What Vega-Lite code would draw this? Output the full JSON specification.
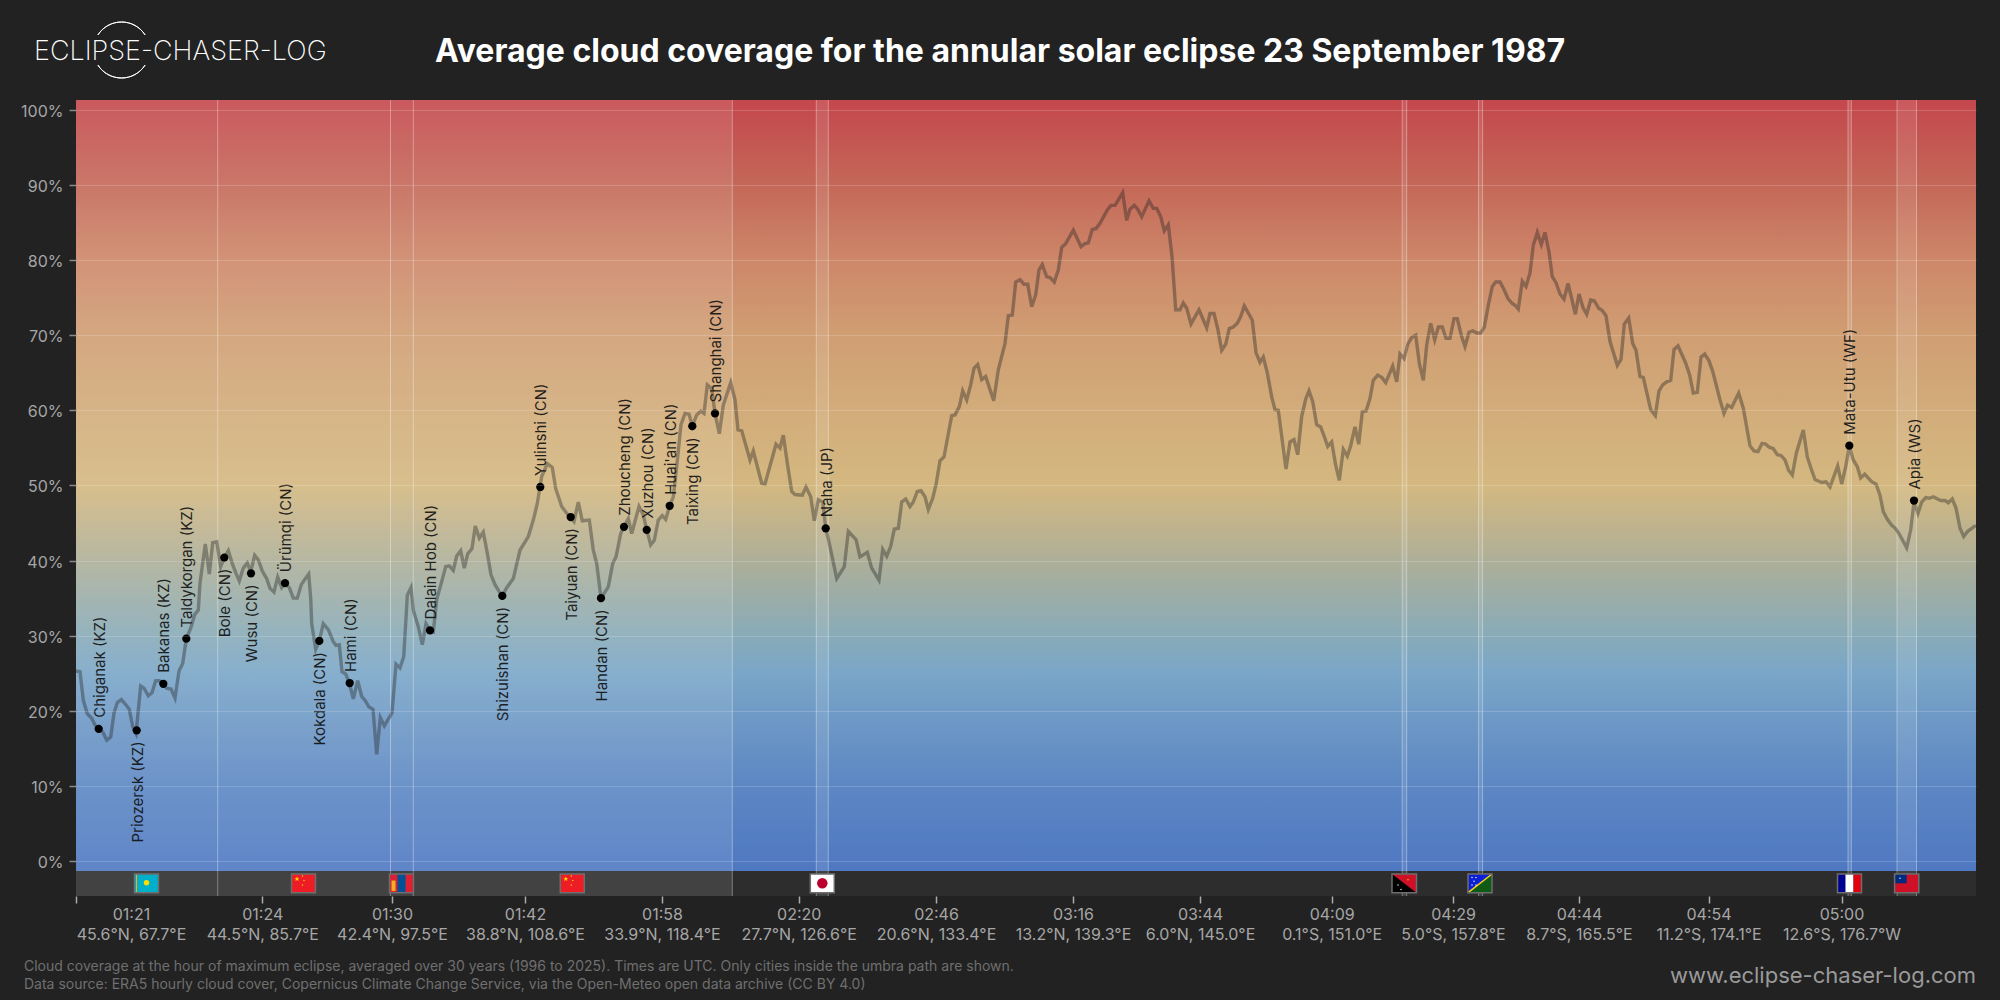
{"$schema":"https://vega.github.io/schema/vega-lite/v6.json","width":1900,"height":796,"autosize":{"type":"none"},"padding":{"left":76,"top":100,"right":24,"bottom":104},"background":"#222222","config":{"view":{"stroke":null},"font":"Inter"},
"resolve":{"axis":{"x":"independent","y":"independent"}},
"datasets":{
"frame":[{"x0":0,"x1":1900,"y0":-1.33,"y1":101.33,"b0":-4.66}],
"regions":[{"c":"Kazakhstan","from":0,"to":141.7},{"c":"China","from":141.7,"to":314.5},{"c":"Mongolia","from":314.5,"to":337.3},{"c":"China","from":337.3,"to":656.3},{"c":"Japan","from":740.3,"to":752.3},{"c":"Papua New Guinea","from":1326.2,"to":1330.7},{"c":"Solomon Islands","from":1402.6,"to":1406.6},{"c":"Wallis and Futuna","from":1772,"to":1775.3},{"c":"Samoa","from":1821,"to":1840.5}],
"line":[{"km":0,"v":25.3},{"km":4,"v":25.2},{"km":7.3,"v":21.4},{"km":11.3,"v":19.6},{"km":15.7,"v":19},{"km":19,"v":18.1},{"km":22.7,"v":17.6},{"km":26.7,"v":17.2},{"km":30.7,"v":16.1},{"km":34.7,"v":16.5},{"km":38,"v":19.7},{"km":41.3,"v":21.1},{"km":45.3,"v":21.5},{"km":49.3,"v":20.9},{"km":53.3,"v":20.2},{"km":56.7,"v":17.9},{"km":60,"v":17},{"km":64.7,"v":23.3},{"km":68,"v":23},{"km":72.3,"v":22},{"km":76,"v":22.4},{"km":79.7,"v":24},{"km":83.3,"v":24},{"km":87.3,"v":23.6},{"km":90.7,"v":23},{"km":95,"v":22.9},{"km":99,"v":21.7},{"km":103,"v":25.3},{"km":106.7,"v":26.3},{"km":110.3,"v":29.6},{"km":114.7,"v":31},{"km":118.7,"v":32.8},{"km":122.3,"v":33.4},{"km":124,"v":37},{"km":129.3,"v":42.2},{"km":133.3,"v":38.2},{"km":136.7,"v":42.4},{"km":140.7,"v":42.5},{"km":144.7,"v":39.2},{"km":148,"v":40.3},{"km":152.3,"v":41.3},{"km":156.3,"v":39.6},{"km":160,"v":38.3},{"km":163.3,"v":37.3},{"km":167.3,"v":39},{"km":171.3,"v":39.7},{"km":174.7,"v":38.5},{"km":178.7,"v":40.7},{"km":182.3,"v":40.1},{"km":186.3,"v":38.6},{"km":190.7,"v":37.6},{"km":194,"v":36.3},{"km":198,"v":35.8},{"km":201.7,"v":37.8},{"km":205.7,"v":36.4},{"km":209.3,"v":37},{"km":213.3,"v":36.4},{"km":217.3,"v":35},{"km":221.3,"v":35},{"km":225.3,"v":36.8},{"km":229.3,"v":37.6},{"km":232.7,"v":38.2},{"km":234.7,"v":35},{"km":235.7,"v":31.6},{"km":239.7,"v":28.2},{"km":243.3,"v":29.3},{"km":247.3,"v":31.6},{"km":252.3,"v":30.8},{"km":257.3,"v":29.2},{"km":260,"v":28.7},{"km":263.3,"v":28.8},{"km":266,"v":25.2},{"km":269.7,"v":24.9},{"km":273.3,"v":23.7},{"km":277.3,"v":21.6},{"km":281.7,"v":24},{"km":285.7,"v":21.9},{"km":289,"v":21.4},{"km":293,"v":20.5},{"km":297,"v":20.2},{"km":300.7,"v":14.2},{"km":304.3,"v":19.1},{"km":308.3,"v":18},{"km":312.3,"v":18.9},{"km":316,"v":19.7},{"km":320,"v":26.2},{"km":324,"v":25.7},{"km":327.7,"v":27.2},{"km":330.7,"v":33.9},{"km":331.3,"v":35.4},{"km":335,"v":36.4},{"km":337.3,"v":33.4},{"km":342.3,"v":31.2},{"km":346.3,"v":28.8},{"km":350,"v":31.6},{"km":354,"v":30.7},{"km":357.3,"v":30.5},{"km":360.7,"v":34.8},{"km":365.7,"v":37.2},{"km":369.7,"v":39.2},{"km":373.3,"v":39.3},{"km":377.3,"v":38.7},{"km":380.7,"v":40.6},{"km":384.7,"v":41.3},{"km":388.3,"v":39},{"km":391.7,"v":40.9},{"km":396,"v":41.6},{"km":399.3,"v":44.6},{"km":403.3,"v":43},{"km":407.3,"v":43.8},{"km":411.3,"v":41},{"km":415,"v":38.1},{"km":419,"v":36.8},{"km":423,"v":35.9},
{"km":426.3,"v":35.3},{"km":430.7,"v":36.4},{"km":437.3,"v":37.6},{"km":444,"v":41.4},{"km":452.3,"v":43.2},{"km":457.3,"v":45.4},{"km":461.3,"v":47.6},{"km":465.7,"v":51.2},{"km":471.3,"v":52.9},{"km":476.3,"v":52.4},{"km":479.7,"v":49.6},{"km":485.7,"v":47.2},{"km":490.7,"v":46.3},{"km":498,"v":45.2},{"km":502.3,"v":47.8},{"km":506.3,"v":45.3},{"km":513.3,"v":45.4},{"km":517.3,"v":41.4},{"km":520.7,"v":39.6},{"km":525,"v":35},{"km":532.3,"v":36.5},{"km":536.7,"v":39.6},{"km":540,"v":40.5},{"km":544.7,"v":43.6},{"km":548,"v":44.5},{"km":552.3,"v":45.6},{"km":555.7,"v":43.6},{"km":563,"v":47.2},{"km":567.3,"v":46.1},{"km":570.7,"v":44.1},{"km":574.7,"v":42.1},{"km":578.3,"v":42.7},{"km":582.3,"v":45.4},{"km":586.3,"v":46},{"km":589.7,"v":45.5},{"km":593.7,"v":47.3},{"km":597.3,"v":48.5},{"km":600.7,"v":52.5},{"km":605,"v":58.1},{"km":609,"v":59.6},{"km":613,"v":59.5},{"km":616.3,"v":57.9},{"km":620.7,"v":59.4},{"km":624.7,"v":59.9},{"km":628,"v":59.6},{"km":631.3,"v":63.4},{"km":635.7,"v":62.9},{"km":639,"v":59.6},{"km":643.3,"v":56.9},{"km":647.3,"v":60.7},{"km":654.7,"v":63.7},{"km":659,"v":61.4},{"km":662,"v":57.4},{"km":665.7,"v":57.3},{"km":674,"v":53.4},{"km":677.3,"v":54.6},{"km":685.7,"v":50.3},{"km":689,"v":50.2},{"km":700,"v":55.5},{"km":704,"v":55},{"km":707.3,"v":56.7},{"km":711.3,"v":53},{"km":715.7,"v":49.2},{"km":719,"v":48.8},{"km":726.3,"v":48.7},{"km":730,"v":49.8},{"km":734.7,"v":48.5},{"km":738.3,"v":45.3},{"km":742.3,"v":48.1},{"km":746.7,"v":47.8},{"km":749.7,"v":44.3},{"km":753,"v":42.5},{"km":760.7,"v":37.6},{"km":768.3,"v":39.2},{"km":772.3,"v":43.9},{"km":780,"v":42.8},{"km":784,"v":40.5},{"km":791.3,"v":41.1},{"km":795.7,"v":39},{"km":803,"v":37.4},{"km":806.7,"v":41.5},{"km":810.7,"v":40.6},{"km":814.7,"v":41.9},{"km":818.3,"v":44.2},{"km":822.3,"v":44.3},{"km":825.7,"v":47.8},{"km":829.7,"v":48.2},{"km":834,"v":47.2},{"km":837.3,"v":47.8},{"km":841.3,"v":49.2},{"km":845,"v":49.3},{"km":849,"v":48.5},{"km":852.3,"v":46.8},{"km":856.7,"v":48.3},{"km":860,"v":50.1},{"km":864,"v":53.3},{"km":868,"v":53.8},{"km":875.7,"v":59.3},{"km":879,"v":59.4},{"km":883.3,"v":60.5},{"km":886.7,"v":62.6},{"km":890.7,"v":61.4},{"km":894.7,"v":63.4},{"km":898,"v":65.6},{"km":901.7,"v":66.1},{"km":905.7,"v":64.1},{"km":909.7,"v":64.5},{"km":917.7,"v":61.3},{"km":922.3,"v":65.4},
{"km":929,"v":68.9},{"km":932.3,"v":72.6},{"km":936.3,"v":72.7},{"km":939.7,"v":77.1},{"km":944,"v":77.4},{"km":948,"v":76.8},{"km":951.7,"v":76.8},{"km":955.7,"v":73.8},{"km":959.7,"v":75.4},{"km":963,"v":78.7},{"km":966.3,"v":79.4},{"km":970.7,"v":77.8},{"km":974,"v":77.7},{"km":978.3,"v":77.1},{"km":982.3,"v":78.7},{"km":985.7,"v":81.7},{"km":989.7,"v":82.2},{"km":997.3,"v":84},{"km":1005,"v":81.8},{"km":1009,"v":82.2},{"km":1012.3,"v":82.3},{"km":1016.3,"v":84.1},{"km":1020,"v":84.2},{"km":1024,"v":84.9},{"km":1031.3,"v":86.7},{"km":1035,"v":87.3},{"km":1039,"v":87.3},{"km":1046.7,"v":89},{"km":1050.7,"v":85.3},{"km":1054,"v":86.8},{"km":1058.3,"v":87.3},{"km":1061.7,"v":86.8},{"km":1065.7,"v":85.8},{"km":1073,"v":87.9},{"km":1077.3,"v":86.9},{"km":1080.7,"v":86.9},{"km":1084.7,"v":85.8},{"km":1088.3,"v":83.9},{"km":1092.3,"v":84.7},{"km":1096,"v":80.5},{"km":1099.7,"v":73.4},{"km":1104,"v":73.4},{"km":1107.3,"v":74.3},{"km":1110.7,"v":73.6},{"km":1115,"v":71.5},{"km":1123,"v":73.4},{"km":1130.7,"v":71},{"km":1134,"v":72.9},{"km":1138,"v":72.9},{"km":1141.7,"v":70.9},{"km":1145.7,"v":68},{"km":1149.7,"v":68.8},{"km":1153.3,"v":70.9},{"km":1157.3,"v":71.1},{"km":1161.3,"v":71.6},{"km":1164.7,"v":72.5},{"km":1168.3,"v":73.9},{"km":1176.3,"v":72},{"km":1180,"v":67.7},{"km":1184,"v":66.4},{"km":1187.3,"v":67.1},{"km":1191.3,"v":65},{"km":1195.7,"v":61.8},{"km":1199,"v":60.1},{"km":1202.3,"v":60},{"km":1210,"v":52.2},{"km":1214,"v":55.8},{"km":1218,"v":56.1},{"km":1221.7,"v":54.1},{"km":1225.7,"v":59.2},{"km":1229.7,"v":61.5},{"km":1233,"v":62.6},{"km":1236.7,"v":61.2},{"km":1240.7,"v":58.1},{"km":1244.7,"v":57.8},{"km":1248.3,"v":56.5},{"km":1251.7,"v":55.2},{"km":1255.7,"v":55.8},{"km":1259.7,"v":52.7},{"km":1263.3,"v":50.7},{"km":1267.3,"v":54.8},{"km":1271.3,"v":53.9},{"km":1274.7,"v":55.3},{"km":1279,"v":57.8},{"km":1282.7,"v":55.5},{"km":1286.3,"v":59.8},{"km":1290,"v":59.9},{"km":1294,"v":61.6},{"km":1297.3,"v":64},{"km":1301.7,"v":64.7},{"km":1305.7,"v":64.4},{"km":1309.7,"v":63.7},{"km":1316.7,"v":65.9},{"km":1320.7,"v":63.8},{"km":1324,"v":67.5},{"km":1328,"v":66.9},{"km":1332,"v":68.9},{"km":1335.7,"v":69.7},{"km":1339.7,"v":70},{"km":1343.3,"v":66.3},{"km":1347.3,"v":64},{"km":1350.7,"v":68.7},{"km":1354.7,"v":71.6},{"km":1358.7,"v":69.4},{"km":1362.3,"v":71.1},{"km":1366.3,"v":71.1},{"km":1370,"v":69.6},{"km":1374,"v":69.6},{"km":1378,"v":72.2},{"km":1381.3,"v":72.2},{"km":1385.7,"v":69.8},{"km":1389,"v":68.5},{"km":1393,"v":70.4},{"km":1396.7,"v":70.6},{"km":1400.7,"v":70.3},{"km":1404.7,"v":70.3},{"km":1408.3,"v":71.1},{"km":1412.3,"v":74},{"km":1416.3,"v":76.5},{"km":1419.7,"v":77.1},{"km":1424,"v":77.1},
{"km":1428,"v":76.1},{"km":1432,"v":74.9},{"km":1435.7,"v":74.3},{"km":1439,"v":74},{"km":1442.3,"v":73.5},{"km":1446.3,"v":77.2},{"km":1450,"v":76.5},{"km":1454,"v":78.3},{"km":1457.3,"v":82},{"km":1461.3,"v":83.7},{"km":1465.3,"v":82.1},{"km":1469,"v":83.7},{"km":1473,"v":81.1},{"km":1476.3,"v":77.8},{"km":1480,"v":77},{"km":1484,"v":75.5},{"km":1488,"v":74.8},{"km":1492,"v":76.9},{"km":1495.7,"v":74.9},{"km":1499.3,"v":72.8},{"km":1503,"v":75.5},{"km":1507,"v":73.7},{"km":1510.7,"v":72.8},{"km":1514.7,"v":74.7},{"km":1518.3,"v":74.6},{"km":1522.7,"v":73.6},{"km":1526.3,"v":73.3},{"km":1530,"v":72.6},{"km":1534,"v":69.2},{"km":1541.3,"v":66},{"km":1545,"v":66.8},{"km":1548.3,"v":71.5},{"km":1552.7,"v":72.3},{"km":1556.7,"v":68.9},{"km":1560,"v":68},{"km":1564,"v":64.5},{"km":1567.3,"v":64.4},{"km":1574.7,"v":60.1},{"km":1579.3,"v":59.3},{"km":1583,"v":62.6},{"km":1586.7,"v":63.4},{"km":1590.7,"v":63.8},{"km":1594.7,"v":64},{"km":1598,"v":68.1},{"km":1602,"v":68.6},{"km":1609.7,"v":66.3},{"km":1613.7,"v":64.7},{"km":1617.3,"v":62.3},{"km":1621.3,"v":62.4},{"km":1625,"v":67.1},{"km":1628.7,"v":67.5},{"km":1633,"v":66.6},{"km":1636.7,"v":65.2},{"km":1644,"v":61.4},{"km":1648,"v":59.6},{"km":1651.7,"v":60.7},{"km":1655.7,"v":60.4},{"km":1662.7,"v":62.3},{"km":1667.3,"v":60.3},{"km":1674,"v":55.3},{"km":1678,"v":54.6},{"km":1682,"v":54.5},{"km":1686,"v":55.6},{"km":1689.7,"v":55.5},{"km":1693.3,"v":55.1},{"km":1697.3,"v":54.9},{"km":1701.3,"v":54.1},{"km":1705,"v":54},{"km":1709,"v":53.4},{"km":1712.7,"v":52},{"km":1716.3,"v":51.4},{"km":1720.3,"v":54.3},{"km":1727.3,"v":57.4},{"km":1731.3,"v":53.8},{"km":1735,"v":52.3},{"km":1739,"v":50.8},{"km":1745.7,"v":50.4},{"km":1750,"v":50.5},{"km":1754,"v":49.8},{"km":1761.7,"v":52.6},{"km":1765.7,"v":50.2},{"km":1769.7,"v":52.5},{"km":1773.3,"v":55.2},{"km":1777.3,"v":53.4},{"km":1781.3,"v":52.5},{"km":1784.7,"v":51},{"km":1788.7,"v":51.5},{"km":1795.7,"v":50.5},{"km":1800,"v":50.2},{"km":1804,"v":48.7},{"km":1807.3,"v":46.5},{"km":1811.3,"v":45.5},{"km":1815.7,"v":44.7},{"km":1819.3,"v":44.3},{"km":1823,"v":43.6},{"km":1830.7,"v":41.7},{"km":1834.7,"v":44.1},{"km":1838,"v":47.8},{"km":1842,"v":46.3},{"km":1845.7,"v":47.8},{"km":1849.7,"v":48.4},{"km":1853.3,"v":48.3},{"km":1857.3,"v":48.5},{"km":1864.7,"v":48},{"km":1869,"v":48},{"km":1872.3,"v":47.7},{"km":1876.3,"v":48.2},{"km":1880,"v":47},{"km":1884,"v":44.3},{"km":1887.7,"v":43.2},{"km":1891.7,"v":43.9},{"km":1895.7,"v":44.3},{"km":1900,"v":44.7}],
"cities":[{"city":"Chiganak (KZ)","km":22.7,"v":17.6,"dir":"up"},{"city":"Priozersk (KZ)","km":60.7,"v":17.4,"dir":"down"},{"city":"Bakanas (KZ)","km":87.3,"v":23.6,"dir":"up"},{"city":"Taldykorgan (KZ)","km":110.3,"v":29.6,"dir":"up"},{"city":"Bole (CN)","km":148.3,"v":40.4,"dir":"down"},{"city":"Wusu (CN)","km":175,"v":38.3,"dir":"down"},{"city":"Ürümqi (CN)","km":209,"v":37,"dir":"up"},{"city":"Kokdala (CN)","km":243.3,"v":29.3,"dir":"down"},{"city":"Hami (CN)","km":273.7,"v":23.7,"dir":"up"},{"city":"Dalain Hob (CN)","km":354,"v":30.7,"dir":"up"},{"city":"Shizuishan (CN)","km":426.3,"v":35.3,"dir":"down"},{"city":"Yulinshi (CN)","km":464.3,"v":49.8,"dir":"up"},{"city":"Taiyuan (CN)","km":494.7,"v":45.8,"dir":"down"},{"city":"Handan (CN)","km":525,"v":35,"dir":"down"},{"city":"Zhoucheng (CN)","km":548,"v":44.5,"dir":"up"},{"city":"Xuzhou (CN)","km":570.7,"v":44.1,"dir":"up"},{"city":"Huai'an (CN)","km":593.7,"v":47.3,"dir":"up"},{"city":"Taixing (CN)","km":616.3,"v":57.9,"dir":"down"},{"city":"Shanghai (CN)","km":639,"v":59.6,"dir":"up"},{"city":"Naha (JP)","km":749.7,"v":44.3,"dir":"up"},{"city":"Mata-Utu (WF)","km":1773.3,"v":55.3,"dir":"up"},{"city":"Apia (WS)","km":1838,"v":48,"dir":"up"}],
"flagParts":[{"part":"KZ teal","x0":58.5,"x1":82.5,"y0":-1.73,"y1":-4.22},{"part":"KZ gold","x0":60,"x1":61,"y0":-1.73,"y1":-4.22},{"part":"CN red","x0":215.5,"x1":239.5,"y0":-1.73,"y1":-4.22},{"part":"MN red","x0":313.5,"x1":337.5,"y0":-1.73,"y1":-4.22},{"part":"MN blue","x0":321.5,"x1":329.5,"y0":-1.73,"y1":-4.22},{"part":"KZ gold","x0":315.5,"x1":319.5,"y0":-2.6,"y1":-4},{"part":"CN red","x0":484.3,"x1":508.3,"y0":-1.73,"y1":-4.22},{"part":"JP white","x0":734.3,"x1":758.3,"y0":-1.73,"y1":-4.22},{"part":"PG black","x0":1316,"x1":1340.5,"y0":-1.73,"y1":-4.22},{"part":"SB blue","x0":1392,"x1":1416,"y0":-1.73,"y1":-4.22},{"part":"FR blue","x0":1761.5,"x1":1769.5,"y0":-1.73,"y1":-4.22},{"part":"FR white","x0":1769.5,"x1":1777.5,"y0":-1.73,"y1":-4.22},{"part":"FR red","x0":1777.5,"x1":1785.5,"y0":-1.73,"y1":-4.22},{"part":"WS red","x0":1818.6,"x1":1842.8,"y0":-1.73,"y1":-4.22},{"part":"WS blue","x0":1818.6,"x1":1830.7,"y0":-1.73,"y1":-2.97}],
"flagTris":[{"part":"PG red","x":1316,"y0":-1.73,"y1":-1.73},{"part":"PG red","x":1340.5,"y0":-1.73,"y1":-4.22},{"part":"SB green","x":1392,"y0":-4.22,"y1":-4.22},{"part":"SB green","x":1416,"y0":-1.73,"y1":-4.22}],
"flagLines":[{"part":"SB yellow","x":1392,"y":-4.22},{"part":"SB yellow","x":1416,"y":-1.73}],
"emblems":[{"e":"sun","part":"KZ sun","x":70.5,"y":-2.9},{"e":"star","part":"KZ sun","x":221,"y":-2.4},{"e":"star","part":"KZ sun","x":489.8,"y":-2.4},{"e":"disc","part":"JP red","x":746.3,"y":-2.97},{"e":"dot","part":"KZ sun","x":226.5,"y":-2},{"e":"dot","part":"KZ sun","x":228,"y":-2.6},{"e":"dot","part":"KZ sun","x":226.5,"y":-3.2},{"e":"dot","part":"KZ sun","x":495.3,"y":-2},{"e":"dot","part":"KZ sun","x":496.8,"y":-2.6},{"e":"dot","part":"KZ sun","x":495.3,"y":-3.2},{"e":"dot","part":"JP white","x":1396,"y":-2.2},{"e":"dot","part":"JP white","x":1400,"y":-2.2},{"e":"dot","part":"JP white","x":1398,"y":-2.7},{"e":"dot","part":"JP white","x":1396,"y":-3.2},{"e":"dot","part":"JP white","x":1400,"y":-3.2},{"e":"dot","part":"JP white","x":1322,"y":-3.2},{"e":"dot","part":"JP white","x":1325,"y":-3.8},{"e":"dot","part":"KZ sun","x":1332,"y":-2.5},{"e":"dot","part":"JP white","x":1824,"y":-2.3}],
"frames":[{"x0":58.5,"x1":82.5},{"x0":215.5,"x1":239.5},{"x0":313.5,"x1":337.5},{"x0":484.3,"x1":508.3},{"x0":734.3,"x1":758.3},{"x0":1316,"x1":1340.5},{"x0":1392,"x1":1416},{"x0":1761.5,"x1":1785.5},{"x0":1818.6,"x1":1842.8}]
},
"layer":[
{"data":{"name":"frame"},"mark":{"type":"rect","color":{"gradient":"linear","x1":0,"y1":0,"x2":0,"y2":1,"stops":[{"offset":0,"color":"#c4474c"},{"offset":0.111,"color":"#c46858"},{"offset":0.2075,"color":"#cd8769"},{"offset":0.305,"color":"#d09e73"},{"offset":0.402,"color":"#d2ac7a"},{"offset":0.5,"color":"#d4b880"},{"offset":0.597,"color":"#aeaf98"},{"offset":0.694,"color":"#88abb8"},{"offset":0.743,"color":"#7aa6c8"},{"offset":0.792,"color":"#709bc6"},{"offset":0.889,"color":"#5c87c3"},{"offset":1,"color":"#4f78c2"}]}},"encoding":{"x":{"field":"x0","type":"quantitative","scale":{"domain":[0,1900],"nice":false,"zero":false},"axis":{"title":null,"values":[0,55,186.3,316,449,586,722.7,860,997,1124,1255.7,1377,1503,1632.5,1765.5],"domain":false,"tickSize":7,"tickWidth":1.5,"tickColor":{"condition":{"test":"datum.value==55","value":"transparent"},"value":"#aaaaaa"},"labelColor":"#a6a6a6","labelFont":"Inter","labelFontSize":16,"labelLineHeight":20.7,"labelPadding":3,"labelOverlap":false,"labelBound":false,"labelFlush":false,"grid":false,"labelExpr":"{'0':'','55':['01:21','45.6°N, 67.7°E'],'186.3':['01:24','44.5°N, 85.7°E'],'316':['01:30','42.4°N, 97.5°E'],'449':['01:42','38.8°N, 108.6°E'],'586':['01:58','33.9°N, 118.4°E'],'722.7':['02:20','27.7°N, 126.6°E'],'860':['02:46','20.6°N, 133.4°E'],'997':['03:16','13.2°N, 139.3°E'],'1124':['03:44','6.0°N, 145.0°E'],'1255.7':['04:09','0.1°S, 151.0°E'],'1377':['04:29','5.0°S, 157.8°E'],'1503':['04:44','8.7°S, 165.5°E'],'1632.5':['04:54','11.2°S, 174.1°E'],'1765.5':['05:00','12.6°S, 176.7°W']}[''+datum.value]"}},"x2":{"field":"x1"},"y":{"field":"y0","type":"quantitative","scale":{"domain":[-4.66,101.33],"nice":false,"zero":false},"axis":{"title":null,"values":[0,10,20,30,40,50,60,70,80,90,100],"domain":false,"tickSize":7,"tickColor":"#8a8a8a","tickWidth":1.5,"labelColor":"#a6a6a6","labelFont":"Inter","labelFontSize":16,"labelPadding":6,"labelOffset":1.5,"labelExpr":"datum.value+'%'","grid":true,"gridColor":"#ffffff","gridOpacity":0.17,"gridWidth":1,"zindex":1}},"y2":{"field":"y1"}}},
{"data":{"name":"frame"},"mark":{"type":"rect","color":"#2d2d2d"},"encoding":{"x":{"field":"x0","type":"quantitative","axis":null},"x2":{"field":"x1"},"y":{"field":"b0","type":"quantitative","axis":null},"y2":{"field":"y0"}}},
{"data":{"name":"regions"},"mark":{"type":"rect","color":"#ffffff","opacity":0.1},"encoding":{"x":{"field":"from","type":"quantitative","axis":null},"x2":{"field":"to"}}},
{"data":{"name":"regions"},"transform":[{"filter":"datum.from>400"}],"mark":{"type":"rule","color":"#ffffff","opacity":0.35,"strokeWidth":1},"encoding":{"x":{"field":"from","type":"quantitative","axis":null}}},
{"data":{"name":"regions"},"mark":{"type":"rule","color":"#ffffff","opacity":0.35,"strokeWidth":1},"encoding":{"x":{"field":"to","type":"quantitative","axis":null}}},
{"data":{"name":"line"},"mark":{"type":"line","color":"#222222","opacity":0.38,"strokeWidth":3.4,"strokeJoin":"miter"},"encoding":{"x":{"field":"km","type":"quantitative","axis":null},"y":{"field":"v","type":"quantitative","axis":null}}},
{"data":{"name":"flagParts"},"mark":{"type":"rect"},"encoding":{"x":{"field":"x0","type":"quantitative","axis":null},"x2":{"field":"x1"},"y":{"field":"y0","type":"quantitative","axis":null},"y2":{"field":"y1"},"color":{"field":"part","type":"nominal","legend":null,"scale":{"domain":["KZ teal","KZ gold","KZ sun","CN red","MN red","MN blue","JP white","JP red","PG black","PG red","SB blue","SB green","SB yellow","FR blue","FR white","FR red","WS red","WS blue"],"range":["#00afca","#f2b01e","#fedd00","#ee1c25","#da2032","#015197","#ffffff","#bc002d","#000000","#ce1126","#0a1fd6","#0f5a14","#fcd116","#000091","#ffffff","#e1000f","#ce1126","#002b7f"]}}}},
{"data":{"name":"flagTris"},"mark":{"type":"area"},"encoding":{"x":{"field":"x","type":"quantitative","axis":null},"y":{"field":"y0","type":"quantitative","axis":null},"y2":{"field":"y1"},"color":{"field":"part","type":"nominal","legend":null}}},
{"data":{"name":"flagLines"},"mark":{"type":"line","strokeWidth":1.5},"encoding":{"x":{"field":"x","type":"quantitative","axis":null},"y":{"field":"y","type":"quantitative","axis":null},"color":{"field":"part","type":"nominal","legend":null}}},
{"data":{"name":"emblems"},"transform":[{"filter":"datum.e=='disc'"}],"mark":{"type":"point","filled":true,"opacity":1,"size":110},"encoding":{"x":{"field":"x","type":"quantitative","axis":null},"y":{"field":"y","type":"quantitative","axis":null},"color":{"field":"part","type":"nominal","legend":null}}},
{"data":{"name":"emblems"},"transform":[{"filter":"datum.e=='sun'"}],"mark":{"type":"point","filled":true,"opacity":1,"size":30},"encoding":{"x":{"field":"x","type":"quantitative","axis":null},"y":{"field":"y","type":"quantitative","axis":null},"color":{"field":"part","type":"nominal","legend":null}}},
{"data":{"name":"emblems"},"transform":[{"filter":"datum.e=='star'"}],"mark":{"type":"point","filled":true,"opacity":1,"size":24,"shape":"M0,-1L0.29,-0.31L0.95,-0.31L0.47,0.12L0.59,0.81L0,0.4L-0.59,0.81L-0.47,0.12L-0.95,-0.31L-0.29,-0.31Z"},"encoding":{"x":{"field":"x","type":"quantitative","axis":null},"y":{"field":"y","type":"quantitative","axis":null},"color":{"field":"part","type":"nominal","legend":null}}},
{"data":{"name":"emblems"},"transform":[{"filter":"datum.e=='dot'"}],"mark":{"type":"point","filled":true,"opacity":1,"size":2},"encoding":{"x":{"field":"x","type":"quantitative","axis":null},"y":{"field":"y","type":"quantitative","axis":null},"color":{"field":"part","type":"nominal","legend":null}}},
{"data":{"name":"frames"},"mark":{"type":"rect","fill":null,"stroke":"#6e6e6e","strokeWidth":1.5},"encoding":{"x":{"field":"x0","type":"quantitative","axis":null},"x2":{"field":"x1"},"y":{"datum":-1.73,"type":"quantitative","axis":null},"y2":{"datum":-4.22}}},
{"data":{"name":"cities"},"mark":{"type":"point","filled":true,"color":"#000000","opacity":1,"size":68},"encoding":{"x":{"field":"km","type":"quantitative","axis":null},"y":{"field":"v","type":"quantitative","axis":null}}},
{"data":{"name":"cities"},"transform":[{"filter":"datum.dir=='up'"}],"mark":{"type":"text","angle":270,"align":"left","baseline":"middle","dx":11,"dy":1,"font":"Inter","fontSize":15,"color":"#111111","opacity":0.9},"encoding":{"x":{"field":"km","type":"quantitative","axis":null},"y":{"field":"v","type":"quantitative","axis":null},"text":{"field":"city"}}},
{"data":{"name":"cities"},"transform":[{"filter":"datum.dir=='down'"}],"mark":{"type":"text","angle":270,"align":"right","baseline":"middle","dx":-11,"dy":1,"font":"Inter","fontSize":15,"color":"#111111","opacity":0.9},"encoding":{"x":{"field":"km","type":"quantitative","axis":null},"y":{"field":"v","type":"quantitative","axis":null},"text":{"field":"city"}}},
{"data":{"values":[{"t":"Average cloud coverage for the annular solar eclipse 23 September 1987"}]},"mark":{"type":"text","align":"left","baseline":"middle","font":"Inter","fontSize":32,"fontWeight":700,"color":"#ffffff"},"encoding":{"x":{"value":359},"y":{"value":-48},"text":{"field":"t"}}},
{"data":{"values":[{"t":"ECLIPSE-CHASER-LOG"}]},"mark":{"type":"text","align":"left","baseline":"middle","font":"Inter","fontWeight":200,"fontSize":27,"color":"#ffffff"},"encoding":{"x":{"value":-42},"y":{"value":-48.5},"text":{"field":"t"}}},
{"data":{"values":[{"t":"top"}]},"mark":{"type":"arc","theta":-1.0,"theta2":1.0,"innerRadius":28,"outerRadius":28,"fill":null,"stroke":"#ffffff","strokeWidth":1},"encoding":{"x":{"value":45.5},"y":{"value":-50}}},
{"data":{"values":[{"t":"bottom"}]},"mark":{"type":"arc","theta":2.1416,"theta2":4.1416,"innerRadius":28,"outerRadius":28,"fill":null,"stroke":"#ffffff","strokeWidth":1},"encoding":{"x":{"value":45.5},"y":{"value":-50}}},
{"data":{"values":[{"t":"Cloud coverage at the hour of maximum eclipse, averaged over 30 years (1996 to 2025). Times are UTC. Only cities inside the umbra path are shown.|Data source: ERA5 hourly cloud cover, Copernicus Climate Change Service, via the Open-Meteo open data archive (CC BY 4.0)"}]},"mark":{"type":"text","align":"left","baseline":"middle","lineBreak":"|","lineHeight":18,"font":"Inter","fontSize":14,"color":"#6f6f6f"},"encoding":{"x":{"value":-52},"y":{"value":867},"text":{"field":"t"}}},
{"data":{"values":[{"t":"www.eclipse-chaser-log.com"}]},"mark":{"type":"text","align":"right","baseline":"middle","font":"Inter","fontSize":22,"color":"#9a9a9a"},"encoding":{"x":{"value":1900},"y":{"value":876},"text":{"field":"t"}}}
]}
